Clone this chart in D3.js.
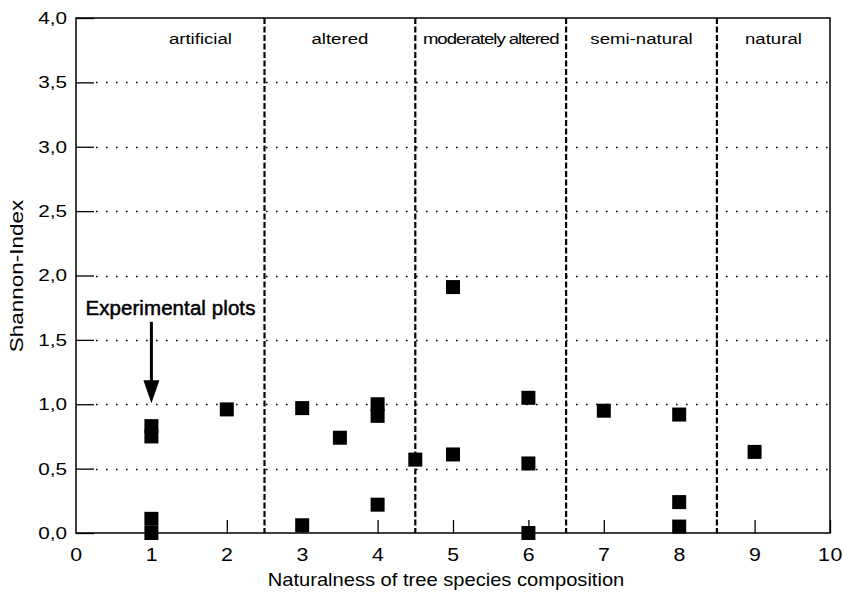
<!DOCTYPE html>
<html>
<head>
<meta charset="utf-8">
<script src="https://cdn.jsdelivr.net/npm/d3@7"></script>
<style>
  html, body { margin: 0; padding: 0; background: #fff; }
  svg { display: block; font-family: "Liberation Sans", Arial, sans-serif; }
</style>
</head>
<body>
<svg id="chart" width="844" height="593"></svg>
<script>
// Naturalness classes and their boundaries on the x scale
const zoneLabels = ["artificial", "altered", "moderately altered", "semi-natural", "natural"];
const zoneLabelX = [1.65, 3.5, 5.5, 7.5, 9.25];
const zoneBounds = [2.5, 4.5, 6.5, 8.5];

// Plot observations: naturalness score vs. Shannon index
const plotX = [1, 1, 1, 1, 2, 3, 3, 3.5, 4, 4, 4, 4.5, 5, 5, 6, 6, 6, 7, 8, 8, 8, 9];
const plotY = [0.83, 0.75, 0.11, 0.0, 0.96, 0.97, 0.06, 0.74, 1.0, 0.91, 0.22, 0.57, 1.91, 0.61, 1.05, 0.54, 0.0, 0.95, 0.92, 0.24, 0.05, 0.63];

// Axis ticks
const xTicks = [0, 1, 2, 3, 4, 5, 6, 7, 8, 9, 10];
const yTicks = [0, 0.5, 1.0, 1.5, 2.0, 2.5, 3.0, 3.5, 4.0];
const gridY = [0.5, 1.0, 1.5, 2.0, 2.5, 3.0, 3.5];

// Annotation
const annotText = "Experimental plots";
const annotX = 1;
const annotFromY = 1.64;
const annotToY = 1.0;

const svg = d3.select("#chart");
const margin = { left: 76, right: 14, top: 18, bottom: 60 };
const W = 844, H = 593;
const FONT = "Liberation Sans, Arial, sans-serif";

const x = d3.scaleLinear().domain([0, 10]).range([margin.left, W - margin.right]);
const y = d3.scaleLinear().domain([0, 4]).range([H - margin.bottom, margin.top]);

const fmt = d => d3.format(".1f")(d).replace(".", ",");

// Dotted horizontal grid
svg.append("g").selectAll("line").data(gridY).join("line")
  .attr("x1", x(0) + 20).attr("x2", x(10) - 2)
  .attr("y1", d => Math.round(y(d)) + 0.5).attr("y2", d => Math.round(y(d)) + 0.5)
  .attr("stroke", "#000").attr("stroke-width", 1.6)
  .attr("stroke-dasharray", "1.6,8.4");

// Frame
svg.append("rect")
  .attr("x", x(0)).attr("y", y(4))
  .attr("width", x(10) - x(0)).attr("height", y(0) - y(4))
  .attr("fill", "none").attr("stroke", "#000").attr("stroke-width", 1.5);

// Y axis: inward ticks and comma-formatted labels (wide lettering)
const ySx = 1.22;
const yAxis = d3.axisLeft(y).tickValues(yTicks).tickSize(-18).tickPadding(0).tickFormat(fmt);
const gy = svg.append("g").attr("transform", `translate(${x(0)},0)`).call(yAxis);
gy.select(".domain").remove();
gy.selectAll(".tick line").attr("stroke", "#000").attr("stroke-width", 1.3);
gy.selectAll(".tick text")
  .attr("fill", "#000").attr("font-size", 17).attr("font-family", FONT)
  .attr("x", -9 / ySx)
  .attr("transform", `scale(${ySx},1)`);

// X axis: short upward ticks
const xSx = 1.15;
const xAxis = d3.axisBottom(x).tickValues(xTicks).tickSize(-13).tickPadding(15).tickFormat(d3.format("d"));
const gx = svg.append("g").attr("transform", `translate(0,${y(0)})`).call(xAxis);
gx.select(".domain").remove();
gx.selectAll(".tick line").attr("stroke", "#000").attr("stroke-width", 1.3)
  .attr("opacity", d => d === 0 ? 0 : 1);
gx.selectAll(".tick text")
  .attr("fill", "#000").attr("font-size", 18.5).attr("font-family", FONT)
  .attr("letter-spacing", 0.5)
  .attr("transform", `scale(${xSx},1)`);

// Class boundaries
svg.append("g").selectAll("line").data(zoneBounds).join("line")
  .attr("x1", d => x(d)).attr("x2", d => x(d))
  .attr("y1", y(4)).attr("y2", y(0))
  .attr("stroke", "#000").attr("stroke-width", 2.2)
  .attr("stroke-dasharray", "6,2.5");

// Class labels
svg.append("g").selectAll("text").data(zoneLabels).join("text")
  .attr("transform", (d, i) => `translate(${x(zoneLabelX[i])},44) scale(1.2,1)`)
  .attr("text-anchor", "middle")
  .attr("font-size", 15.5)
  .attr("letter-spacing", d => d === "moderately altered" ? -0.85 : 0)
  .text(d => d);

// Observations
const size = 14;
svg.append("g").selectAll("rect").data(plotX).join("rect")
  .attr("x", d => x(d) - size / 2)
  .attr("y", (d, i) => y(plotY[i]) - size / 2)
  .attr("width", size).attr("height", size)
  .attr("fill", "#000");

// Annotation with arrow
svg.append("text")
  .attr("x", x(annotX) - 66).attr("y", 315)
  .attr("font-size", 20.5)
  .attr("stroke", "#000").attr("stroke-width", 0.5)
  .attr("textLength", 170)
  .text(annotText);
svg.append("line")
  .attr("x1", x(annotX)).attr("x2", x(annotX))
  .attr("y1", y(annotFromY)).attr("y2", y(annotToY) - 18)
  .attr("stroke", "#000").attr("stroke-width", 3);
svg.append("path")
  .attr("d", d3.line()([
    [x(annotX) - 8, y(annotToY) - 24],
    [x(annotX) + 8, y(annotToY) - 24],
    [x(annotX), y(annotToY) - 1]
  ]) + "Z")
  .attr("fill", "#000");

// Axis titles
svg.append("text")
  .attr("transform", "translate(446,586) scale(1.15,1)")
  .attr("text-anchor", "middle")
  .attr("font-size", 17.5)
  .text("Naturalness of tree species composition");
svg.append("text")
  .attr("transform", `translate(23,276) rotate(-90) scale(1.25,1)`)
  .attr("text-anchor", "middle")
  .attr("font-size", 18)
  .text("Shannon-Index");
</script>
</body>
</html>
